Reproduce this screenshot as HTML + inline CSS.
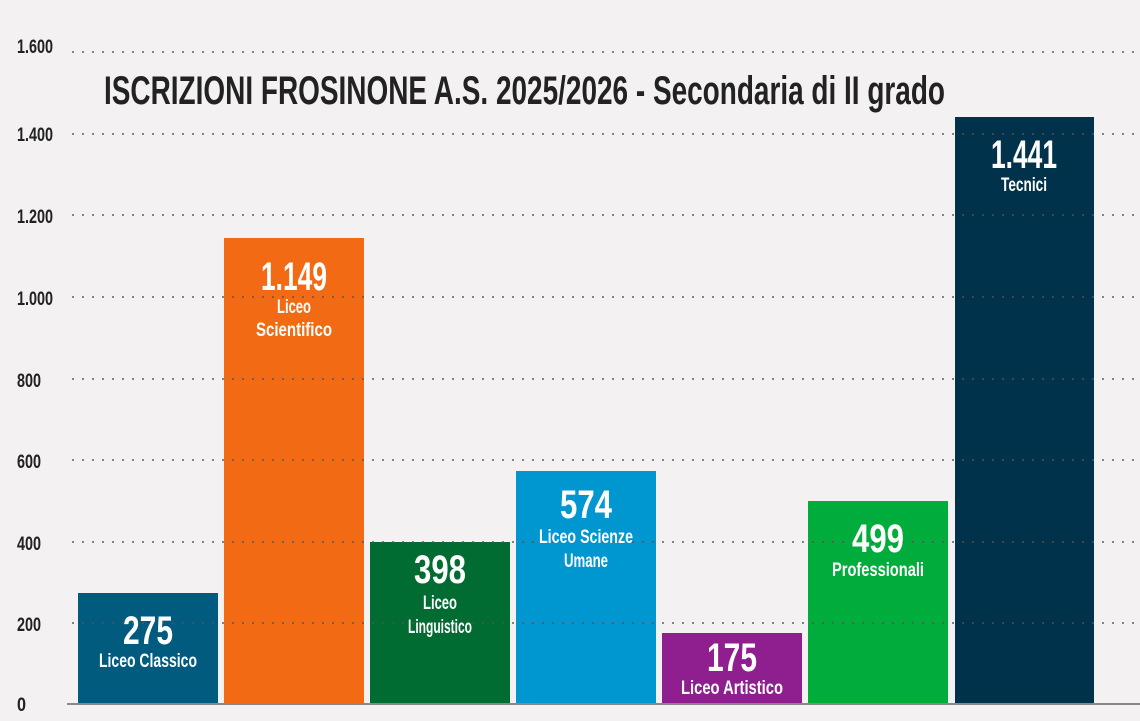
<!DOCTYPE html>
<html><head><meta charset="utf-8"><style>
html,body{margin:0;padding:0;background:#f3f1f2;}
svg{display:block;}
text{font-family:"Liberation Sans",Arial,sans-serif;font-weight:bold;}
.v{fill:#fff;font-size:40px;text-anchor:middle;}
.l{fill:#fff;font-size:19px;text-anchor:middle;}
.y{fill:#222;font-size:19px;font-weight:normal;}
</style></head><body>
<svg width="1140" height="721" viewBox="0 0 1140 721">
<rect width="1140" height="721" fill="#f3f1f2"/>
<g class="y">
<text x="17" y="53" textLength="36" lengthAdjust="spacingAndGlyphs">1.600</text>
<text x="17" y="141" textLength="36" lengthAdjust="spacingAndGlyphs">1.400</text>
<text x="17" y="223" textLength="36" lengthAdjust="spacingAndGlyphs">1.200</text>
<text x="17" y="305" textLength="36" lengthAdjust="spacingAndGlyphs">1.000</text>
<text x="17" y="387" textLength="24" lengthAdjust="spacingAndGlyphs">800</text>
<text x="17" y="468" textLength="24" lengthAdjust="spacingAndGlyphs">600</text>
<text x="17" y="550" textLength="24" lengthAdjust="spacingAndGlyphs">400</text>
<text x="17" y="631" textLength="24" lengthAdjust="spacingAndGlyphs">200</text>
<text x="17" y="711" textLength="9" lengthAdjust="spacingAndGlyphs">0</text>
</g>
<text x="104" y="104" font-size="40" fill="#222" textLength="841" lengthAdjust="spacingAndGlyphs">ISCRIZIONI FROSINONE A.S. 2025/2026 - Secondaria di II grado</text>
<rect x="78" y="593" width="140" height="111" fill="#005b7f"/>
<rect x="224" y="238" width="140" height="466" fill="#f36a14"/>
<rect x="370" y="542" width="140" height="162" fill="#006c32"/>
<rect x="516" y="471" width="140" height="233" fill="#0096d0"/>
<rect x="662" y="633" width="140" height="71" fill="#8f1f8e"/>
<rect x="808" y="501" width="140" height="203" fill="#00ac3c"/>
<rect x="955" y="117" width="139" height="587" fill="#00334b"/>
<g stroke="#555" stroke-width="2" stroke-dasharray="2,8" opacity="0.7">
<line x1="72" y1="52" x2="1140" y2="52"/>
<line x1="72" y1="134" x2="1140" y2="134"/>
<line x1="72" y1="215" x2="1140" y2="215"/>
<line x1="72" y1="297" x2="1140" y2="297"/>
<line x1="72" y1="379" x2="1140" y2="379"/>
<line x1="72" y1="460" x2="1140" y2="460"/>
<line x1="72" y1="542" x2="1140" y2="542"/>
<line x1="72" y1="623" x2="1140" y2="623"/>
</g>
<line x1="67" y1="704" x2="1140" y2="704" stroke="#888" stroke-width="2"/>
<text class="v" x="148" y="644" textLength="50" lengthAdjust="spacingAndGlyphs">275</text>
<text class="l" x="148" y="667" textLength="98" lengthAdjust="spacingAndGlyphs">Liceo Classico</text>
<text class="v" x="294" y="290" textLength="66" lengthAdjust="spacingAndGlyphs">1.149</text>
<text class="l" x="294" y="313" textLength="34" lengthAdjust="spacingAndGlyphs">Liceo</text>
<text class="l" x="294" y="336" textLength="76" lengthAdjust="spacingAndGlyphs">Scientifico</text>
<text class="v" x="440" y="583" textLength="52" lengthAdjust="spacingAndGlyphs">398</text>
<text class="l" x="440" y="609" textLength="34" lengthAdjust="spacingAndGlyphs">Liceo</text>
<text class="l" x="440" y="633" textLength="64" lengthAdjust="spacingAndGlyphs">Linguistico</text>
<text class="v" x="586" y="518" textLength="52" lengthAdjust="spacingAndGlyphs">574</text>
<text class="l" x="586" y="543" textLength="94" lengthAdjust="spacingAndGlyphs">Liceo Scienze</text>
<text class="l" x="586" y="567" textLength="44" lengthAdjust="spacingAndGlyphs">Umane</text>
<text class="v" x="732" y="671" textLength="50" lengthAdjust="spacingAndGlyphs">175</text>
<text class="l" x="732" y="694" textLength="102" lengthAdjust="spacingAndGlyphs">Liceo Artistico</text>
<text class="v" x="878" y="552" textLength="52" lengthAdjust="spacingAndGlyphs">499</text>
<text class="l" x="878" y="576" textLength="92" lengthAdjust="spacingAndGlyphs">Professionali</text>
<text class="v" x="1024" y="168" textLength="66" lengthAdjust="spacingAndGlyphs">1.441</text>
<text class="l" x="1024" y="191" textLength="46" lengthAdjust="spacingAndGlyphs">Tecnici</text>
</svg>
</body></html>
